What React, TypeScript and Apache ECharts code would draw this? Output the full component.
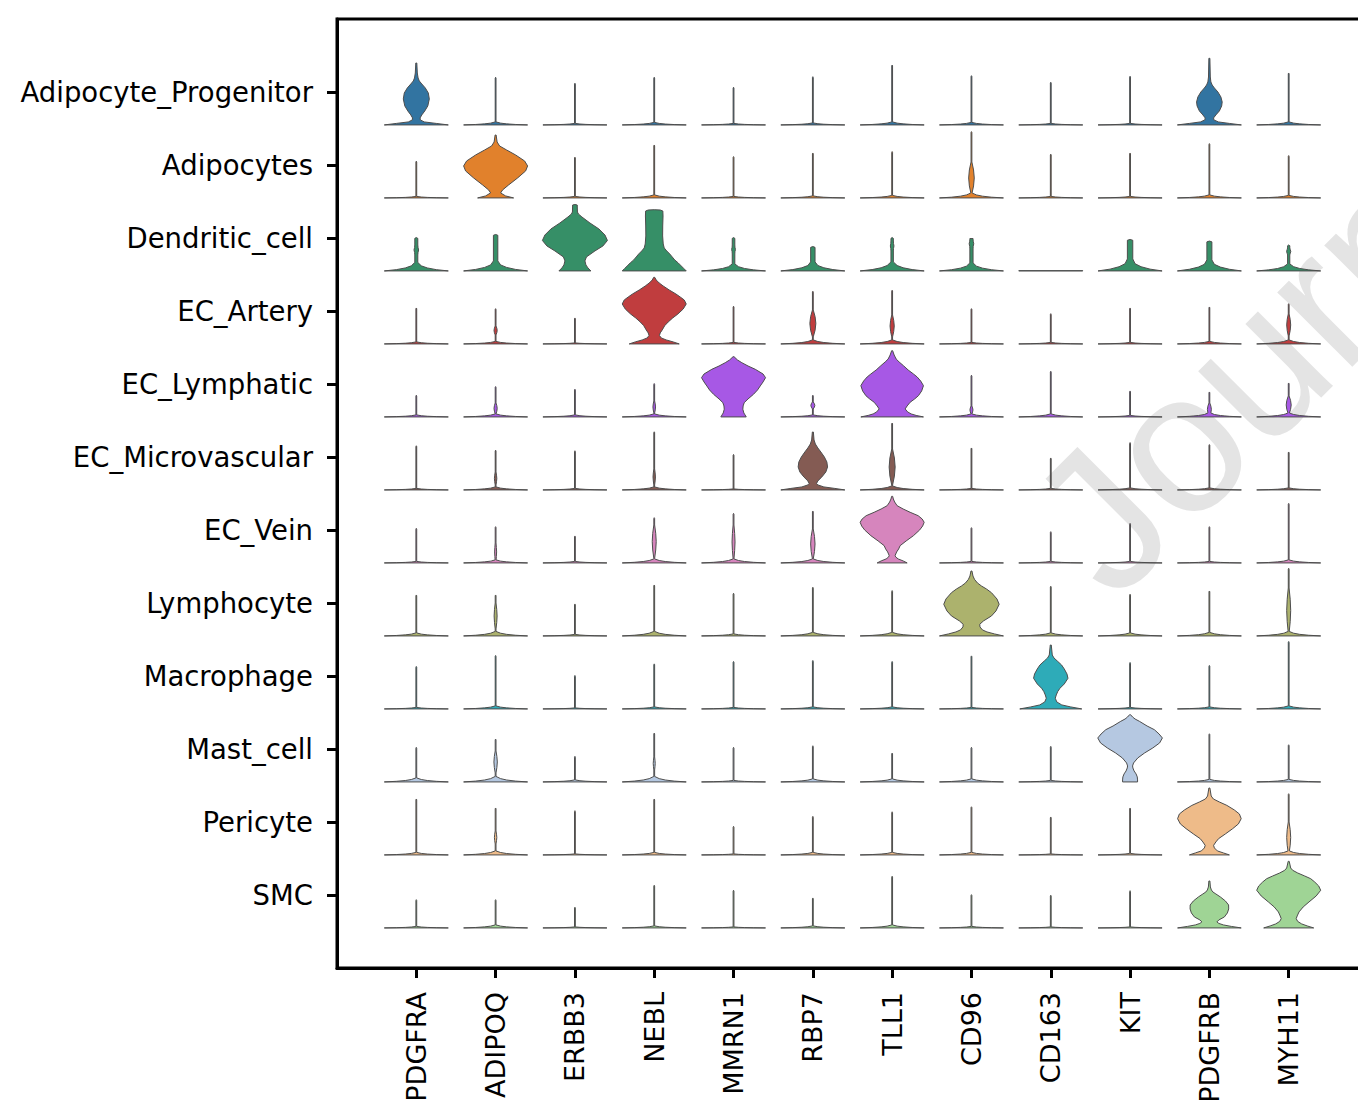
import React, { useEffect, useRef } from "react";
import * as echarts from "echarts";

const genes = ["PDGFRA", "ADIPOQ", "ERBB3", "NEBL", "MMRN1", "RBP7", "TLL1", "CD96", "CD163", "KIT", "PDGFRB", "MYH11"];
const cellTypes = [
  "Adipocyte_Progenitor", "Adipocytes", "Dendritic_cell", "EC_Artery", "EC_Lymphatic", "EC_Microvascular",
  "EC_Vein", "Lymphocyte", "Macrophage", "Mast_cell", "Pericyte", "SMC",
];
const rowColors = [
  "#3274a1", "#e1812c", "#368f67", "#c03d3e", "#a758e5", "#845b53",
  "#d685bd", "#acb26d", "#2eabb8", "#b5c8e1", "#eebb89", "#9fd495",
];

// Height of the thin (mostly-zero) violins' tails, in expression units (null = full violin below)
const spikeTop: (number | null)[][] = [
  [null, 47.7, 41.7, 47.7, 37.7, 48.3, 60, 49.3, 42.7, 48.7, null, 52],
  [36.8, null, 40.8, 53, 41.4, 45, 46.4, 66.4, 43.8, 45, 54.4, 42.4],
  [33.4, 36.5, null, null, 33.4, 24.4, 33.4, 32.4, 0, 31.5, 29.9, 26],
  [36, 35.3, 26, null, 37.7, 52.7, 53.7, 35.3, 30.3, 36, 37, 40.3],
  [21.7, 30.4, 27.7, 33.4, null, 21.7, null, 41.7, 45.7, 26, 25, 34],
  [44.2, 39.8, 39.2, 58.2, 35.5, null, 67, 42, 32, 47.4, 45.4, 38],
  [34.6, 36.3, 27, 45.3, 49.6, 52, null, 35.3, 31.3, 39.6, 36.3, 59.6],
  [41, 41, 32, 51, 42.7, 48.7, 45.4, null, 49.7, 41.7, 45, 67.7],
  [42.5, 53.5, 33.5, 45.1, 47.5, 48.5, 47.5, 53.1, null, 46.5, 43.5, 67.5],
  [34.6, 42.9, 25.6, 48.9, 34.6, 36.2, 28.9, 34.6, 35.6, null, 48.2, 37.2],
  [56, 47, 44.3, 56, 28.6, 38.6, 43.2, 48.2, 38, 47, null, 61.3],
  [28.3, 28.3, 20.7, 42.7, 37.7, 30, 51.7, 33.3, 32.7, 37.3, null, null],
];

// Height of the density mound at zero expression
const baseMound: number[][] = [
  [0, 3, 1.5, 2.5, 1.5, 2, 3, 2.5, 1.5, 1.5, 0, 3],
  [1.5, 0, 1.5, 3, 1.5, 2, 2.5, 5, 1.5, 1.5, 3, 2.5],
  [8.5, 10, 0, 0, 7, 9, 9, 8, 0, 12, 11, 7],
  [2, 2.5, 1, 0, 1.5, 4, 4, 1.5, 1.5, 1.5, 2.5, 4],
  [2, 3, 2, 3, 0, 2, 0, 3, 3, 1.5, 4, 4],
  [1.5, 3, 1.5, 3, 1, 0, 4, 1.5, 1.5, 2, 2, 2],
  [1.5, 3, 1.5, 4, 4, 4, 0, 1.5, 1.5, 1.5, 1.5, 3],
  [3, 4.5, 1.5, 4.5, 2, 3.5, 3.5, 0, 3, 3, 3.5, 4.5],
  [1.5, 3, 1, 2, 1.5, 2, 2, 1.5, 0, 1.5, 2, 3],
  [4, 5.5, 2, 5.5, 1.5, 3, 3, 3, 1.5, 0, 2.5, 2.5],
  [2.5, 4, 1, 2.5, 1, 2.5, 2.5, 2.5, 1, 1.5, 0, 4],
  [1.5, 3, 1, 2, 1, 2, 3, 1.5, 1, 1, 0, 0],
];

// [row, col, half-width] of wider tails
const stems: number[][] = [
  [2, 0, 1.5], [2, 1, 2.2], [2, 4, 1.3], [2, 5, 2.2], [2, 6, 1.2], [2, 7, 1.6], [2, 9, 2.7], [2, 10, 2.5], [2, 11, 1.1],
];

// [row, col, low, high, half-width] small secondary densities on tails
const spindles: number[][] = [
  [2, 0, 16, 26, 2.3], [2, 4, 17, 26, 1.9], [2, 6, 20, 30, 1.8], [2, 7, 22, 32.4, 2.3], [2, 11, 16, 23, 2.1],
  [1, 7, 4, 36, 2.8],
  [3, 1, 9, 18, 1.6], [3, 5, 7, 34, 3], [3, 6, 7, 29, 2.1], [3, 11, 8, 30, 2],
  [4, 1, 3, 14, 1.6], [4, 3, 4, 16, 1.3], [4, 5, 8, 15, 2], [4, 7, 3, 11, 1.5], [4, 10, 1, 14, 2], [4, 11, 3, 21, 2.5],
  [5, 1, 5, 18, 1.2], [5, 3, 5, 21, 1.2], [5, 6, 4.8, 41, 3],
  [6, 1, 2, 20, 1], [6, 3, 4.6, 38, 2], [6, 4, 4, 38, 1.5], [6, 5, 4, 34, 2.2],
  [7, 1, 7, 33, 1.5], [7, 11, 3, 48, 2],
  [9, 1, 9, 31, 1.7], [9, 3, 12, 25, 1],
  [10, 1, 11, 24, 1.2], [10, 11, 2, 33, 2],
];

// Full violin profiles: [expression, density half-width]
const fullViolins: { row: number; col: number; profile: number[][] }[] = [
  { row: 0, col: 0, profile: [[0, 32], [1.5, 20], [3, 8], [5, 4], [7, 3.8], [10, 5.5], [14, 8.5], [19, 11.5], [26, 13], [32, 12], [37, 9], [41, 5.5], [44, 3], [47, 1.8], [52, 1], [62, 0.5]] },
  { row: 0, col: 10, profile: [[0, 32], [1.5, 20], [3, 9], [5, 4.5], [7, 4.2], [10, 6.5], [14, 10], [19, 12.3], [23, 12.8], [28, 11.5], [33, 8.5], [37, 5], [40, 2.8], [43, 1.5], [48, 0.9], [66.7, 0.5]] },
  { row: 1, col: 1, profile: [[0, 18], [2, 10], [5, 5], [8, 7], [13, 13], [20, 22], [27, 30], [32, 32], [37, 29], [43, 20], [48, 11], [52, 4], [56, 1.5], [63, 0.5]] },
  { row: 2, col: 2, profile: [[0, 16], [3, 13], [6, 11], [10, 10], [14, 11.5], [20, 20], [25, 28], [30.5, 32.5], [36, 30], [42, 24], [48, 15], [54, 7], [57, 3.5], [59, 2.5], [66, 2.3], [66.5, 0]] },
  { row: 2, col: 3, profile: [[0, 32], [2.5, 29.5], [5, 27], [8, 24], [11, 20.5], [14, 18], [17, 15.5], [20, 12.5], [23, 10], [27, 9], [35, 8.4], [45, 8.5], [55, 8.8], [60, 8.6], [61, 6], [61.3, 0]] },
  { row: 3, col: 3, profile: [[0, 25], [2, 19], [4, 12], [6, 7], [8.5, 5.2], [11, 6], [14, 8], [18.3, 10.5], [22, 14], [26, 18.5], [30, 23.7], [35, 29], [40, 32], [44, 30], [47, 26], [50, 21.7], [54, 15], [58, 9], [61, 5], [64, 2], [66.7, 0.5]] },
  { row: 4, col: 4, profile: [[0, 12.7], [2, 11.5], [4, 10.3], [7.7, 9.3], [11, 9.6], [14.3, 10.7], [18, 14.5], [22.7, 20], [27, 24], [31, 26.7], [35, 29.5], [39.3, 32], [43, 29.5], [47.7, 21.7], [51, 14.5], [54.3, 8.3], [57, 4], [60.3, 0.5]] },
  { row: 4, col: 6, profile: [[0, 31.3], [1.5, 24], [3, 19], [5, 15.5], [8, 13], [11, 15], [14.7, 18], [18, 22.5], [21.3, 26.3], [26, 29.5], [31.3, 31.3], [36, 28.5], [40, 25], [43, 21.3], [47, 16], [51.3, 11.3], [55, 7], [58, 4], [62, 2], [66.3, 0.5]] },
  { row: 5, col: 5, profile: [[0, 32], [1.5, 22], [3, 11], [5, 5], [6.5, 3.7], [9, 5], [13, 9], [18, 13], [23, 14.7], [28, 14], [33, 11.5], [38, 8], [42, 5], [46, 2.5], [50, 1.2], [58, 0.5]] },
  { row: 6, col: 6, profile: [[0, 15], [2, 11], [4, 6], [6, 3.5], [7.5, 3], [11, 4.5], [14, 6.5], [17.3, 8], [22, 14], [27.3, 21.3], [33, 27.5], [37, 30.5], [40.7, 32], [44, 30], [47.3, 26], [50.7, 18], [54, 11], [57.3, 5], [61, 2.5], [64, 1.2], [66.7, 0.5]] },
  { row: 7, col: 7, profile: [[0, 32], [2, 23], [4, 15.5], [6, 11], [9, 8.5], [11.7, 8.3], [15, 12], [20, 20], [25, 24.5], [31.7, 27.7], [37, 25.5], [43.3, 20], [47, 15], [50, 10], [53, 6], [56.7, 3], [60, 1.5], [65, 0.5]] },
  { row: 8, col: 8, profile: [[0, 31], [2, 20], [4, 11], [7, 6], [10.7, 4.5], [14, 5.5], [17.5, 7], [20.7, 9.2], [25, 13.5], [30.7, 17.2], [35, 16.2], [40, 13.5], [44, 10.8], [48, 6.5], [51, 3.2], [54, 1.5], [64, 0.5]] },
  { row: 9, col: 9, profile: [[0, 7.5], [2, 7.5], [5, 7.2], [8, 6], [11, 4], [14, 2.8], [16, 2.5], [19, 3.5], [24, 7.7], [29, 14.5], [34, 22.7], [39, 29.5], [44, 32.3], [48, 29], [52.3, 24.3], [56, 17], [60.7, 9.3], [63, 5], [65, 2.5], [67.3, 0.5]] },
  { row: 10, col: 10, profile: [[0, 20], [2, 14], [4, 8], [7, 5], [9.6, 4.2], [13, 6.5], [16.3, 9.2], [21, 16], [26.3, 23.3], [31, 29], [36.3, 31.8], [41, 30], [45, 25], [49.6, 17.5], [53, 10], [56, 4], [59, 1.8], [67, 0.5]] },
  { row: 11, col: 10, profile: [[0, 31.8], [1.5, 22], [3, 14], [4.5, 9.5], [6, 7.5], [8, 9.5], [11, 15], [15, 18], [19, 19.3], [23, 19.2], [27, 16], [31, 11], [34, 6.5], [36, 3.5], [38, 2], [41, 1], [47, 0.5]] },
  { row: 11, col: 11, profile: [[0, 25], [2, 18.5], [4, 13], [6.5, 9], [9.3, 7.5], [12, 8.5], [16, 10.3], [21, 14.5], [26, 20.3], [32, 27.5], [37.7, 32], [42, 30], [46, 26], [49.3, 22], [52, 16], [55, 9], [57.7, 4], [60, 2], [66.7, 0.5]] },
];

const FULL_W = 32;

function pl(points: number[][], h: number): number {
  if (!points.length || h < points[0][0] - 1e-9 || h > points[points.length - 1][0] + 1e-9) return 0;
  for (let i = 0; i < points.length - 1; i++) {
    const [h0, w0] = points[i];
    const [h1, w1] = points[i + 1];
    if (h >= h0 - 1e-9 && h <= h1 + 1e-9) {
      if (h1 === h0) return Math.max(w0, w1);
      return w0 + ((w1 - w0) * (h - h0)) / (h1 - h0);
    }
  }
  return 0;
}

function thinProfile(r: number, c: number): number[][] {
  const top = spikeTop[r][c] as number;
  if (top <= 0) return [[0, FULL_W], [0.25, FULL_W]];
  const M = Math.max(baseMound[r][c], 0.8);
  const st = stems.find((s) => s[0] === r && s[1] === c);
  const stem = st ? st[2] : 0.4;
  const base = [[0, FULL_W], [0.15 * M, 20], [0.35 * M, 11], [0.6 * M, 5], [M, stem]];
  const tail = [[0, stem], [Math.max(top - 0.8, 0), stem], [top, 0]];
  const sp = spindles.find((s) => s[0] === r && s[1] === c);
  let spin: number[][] = [];
  if (sp) {
    const [, , lo, hi, w] = sp;
    const L = hi - lo;
    spin = [[lo, stem], [lo + 0.25 * L, 0.75 * w], [lo + 0.5 * L, w], [lo + 0.75 * L, 0.75 * w], [hi, stem]];
  }
  const hs = Array.from(new Set([...base, ...tail, ...spin].map((p) => p[0]))).sort((a, b) => a - b);
  return hs.map((h) => [h, Math.max(pl(base, h), pl(tail, h), pl(spin, h))]);
}

const profiles: number[][][] = [];
const seriesData: number[][] = [];
for (let r = 0; r < cellTypes.length; r++) {
  for (let c = 0; c < genes.length; c++) {
    const fv = fullViolins.find((v) => v.row === r && v.col === c);
    profiles.push(fv ? fv.profile : thinProfile(r, c));
    seriesData.push([c, r, r * genes.length + c]);
  }
}

const idxTicks = genes.map((_, i) => i);
const rowTicks = cellTypes.map((_, i) => i);

export default function App() {
  const ref = useRef<HTMLDivElement>(null);
  useEffect(() => {
    if (!ref.current) return;
    const chart = echarts.init(ref.current, undefined, { renderer: "svg" });
    const option: any = {
      animation: false,
      backgroundColor: "#ffffff",
      grid: {
        left: 337, top: 19, right: 12, bottom: 132, show: true, borderColor: "#000", borderWidth: 3,
        containLabel: false, outerBoundsMode: "none",
      },
      graphic: [
        {
          type: "text",
          x: 1136,
          y: 626,
          rotation: Math.PI / 4,
          z: 0,
          silent: true,
          style: {
            text: "Journal Pre-proof",
            fontSize: 200,
            fontFamily: "Liberation Sans",
            fill: "#e4e4e4",
            align: "left",
            verticalAlign: "bottom",
          },
        },
      ],
      xAxis: {
        type: "value",
        min: -1,
        max: 12,
        interval: 1,
        splitLine: { show: false },
        axisLine: { show: true, onZero: false, lineStyle: { color: "#000", width: 3 } },
        axisTick: { show: true, customValues: idxTicks, length: 10, lineStyle: { color: "#000", width: 3 } },
        axisLabel: {
          customValues: idxTicks,
          formatter: (v: number) => genes[Math.round(v)] ?? "",
          rotate: 90,
          margin: 24,
          fontSize: 27,
          fontFamily: "DejaVu Sans",
          color: "#000",
        },
      },
      yAxis: {
        type: "value",
        inverse: true,
        min: -1,
        max: 12,
        interval: 1,
        splitLine: { show: false },
        axisLine: { show: true, onZero: false, lineStyle: { color: "#000", width: 3 } },
        axisTick: { show: true, customValues: rowTicks, length: 10, lineStyle: { color: "#000", width: 3 } },
        axisLabel: {
          customValues: rowTicks,
          formatter: (v: number) => cellTypes[Math.round(v)] ?? "",
          margin: 24,
          fontSize: 27.5,
          fontFamily: "DejaVu Sans",
          color: "#000",
        },
      },
      series: [
        {
          type: "custom",
          z: 5,
          clip: false,
          data: seriesData,
          renderItem: (params: any, api: any) => {
            const c = api.value(0);
            const r = api.value(1);
            const idx = api.value(2);
            const prof = profiles[idx];
            const [cx, cy] = api.coord([c, r]);
            const sz = api.size([1, 1]);
            const colPx = Math.abs(sz[0]);
            const rowPx = Math.abs(sz[1]);
            const baseY = cy + 0.451 * rowPx;
            const hs = rowPx / 73.1;
            const ws = colPx / 79.3;
            const right = prof.map(([h, w]) => [cx + w * ws, baseY - h * hs]);
            const left = prof.slice().reverse().map(([h, w]) => [cx - w * ws, baseY - h * hs]);
            return {
              type: "polygon",
              shape: { points: right.concat(left) },
              style: { fill: rowColors[r], stroke: "#4d4d4d", lineWidth: 1 },
            };
          },
        },
      ],
    };
    chart.setOption(option);
    return () => chart.dispose();
  }, []);
  return (
    <div style={{ position: "fixed", left: 0, top: 0, width: 1358, height: 1100, overflow: "hidden", background: "#fff" }}>
      <div ref={ref} style={{ width: 1380, height: 1100 }} />
    </div>
  );
}
